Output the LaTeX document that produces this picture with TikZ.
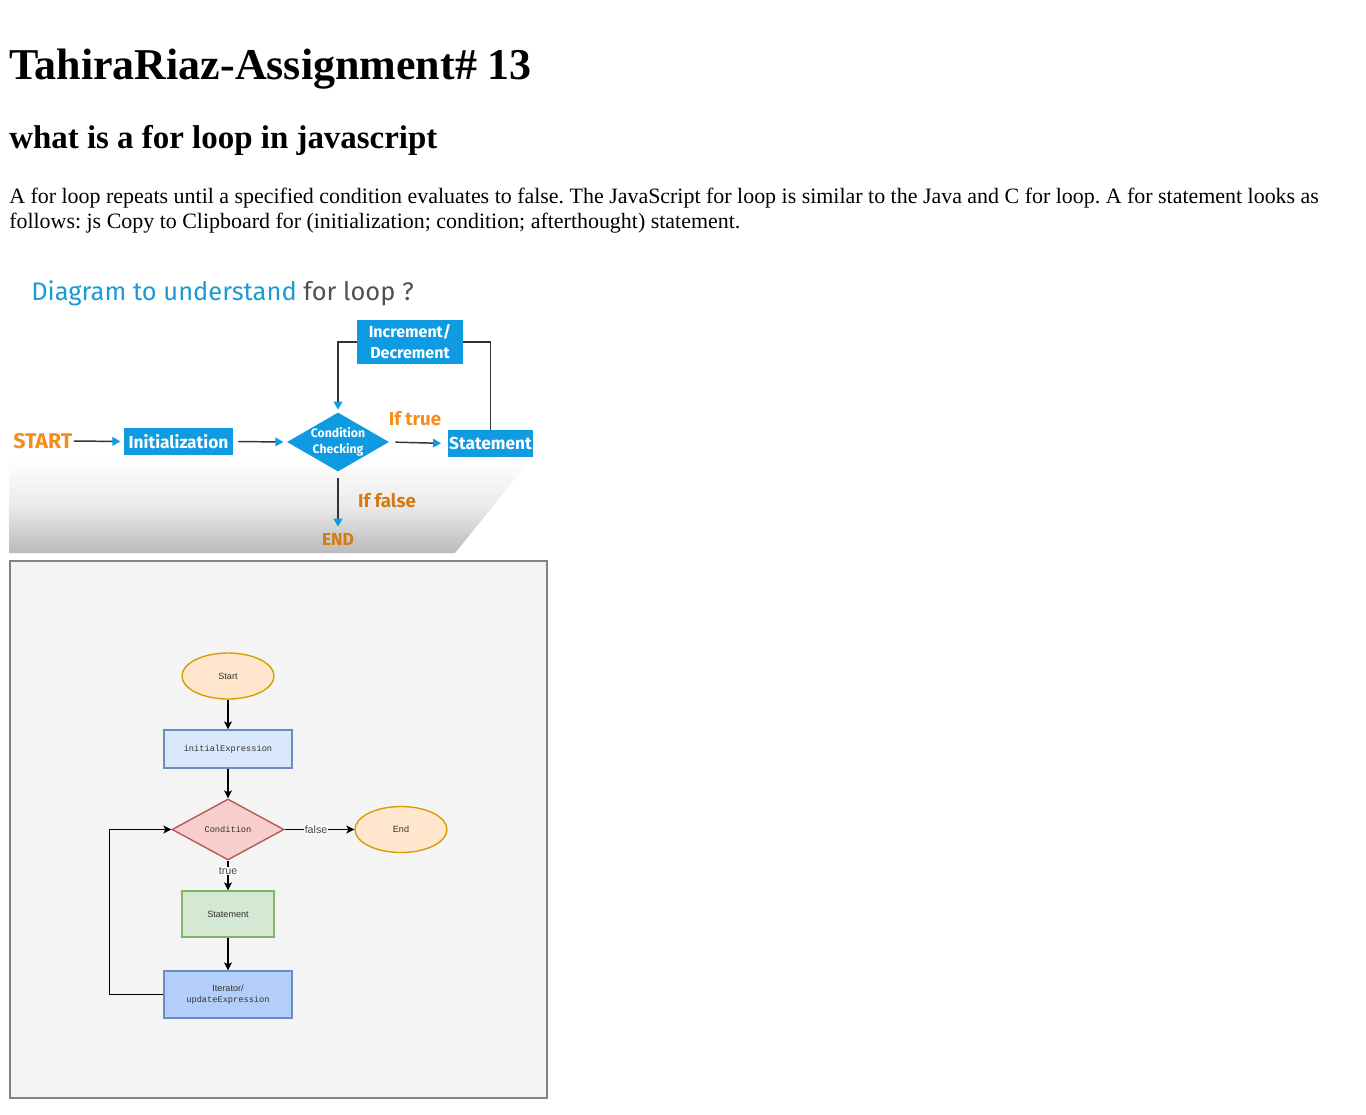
\documentclass[tikz,border=0pt]{standalone}
\usepackage{fontspec}
\setmainfont{Liberation Serif}
\newfontfamily\dinfont{Fira Sans}
\newfontfamily\drawfont{Liberation Sans}
\newfontfamily\codefont{Liberation Mono}
\usetikzlibrary{shapes.geometric,arrows.meta}
\definecolor{jsblue}{RGB}{14,155,226}
\definecolor{titleblue}{RGB}{27,154,214}
\definecolor{titlegray}{RGB}{80,80,80}
\definecolor{jsorange}{RGB}{244,140,30}
\definecolor{darkorange}{RGB}{212,124,20}
\definecolor{panelbg}{RGB}{244,244,244}
\definecolor{panelborder}{RGB}{130,130,130}
\definecolor{orfill}{RGB}{255,230,204}
\definecolor{ordraw}{RGB}{215,155,0}
\definecolor{bfill}{RGB}{218,232,252}
\definecolor{bdraw}{RGB}{108,142,191}
\definecolor{rfill}{RGB}{248,206,204}
\definecolor{rdraw}{RGB}{184,84,80}
\definecolor{gfill}{RGB}{213,232,212}
\definecolor{gdraw}{RGB}{130,179,102}
\definecolor{b2fill}{RGB}{180,206,250}
\definecolor{fadegray}{RGB}{186,186,186}
\frenchspacing
\begin{document}
\begin{tikzpicture}[x=0.75pt,y=-0.75pt,
  htext/.style={anchor=base west, inner sep=0pt},
  topbox/.style={rectangle, fill=jsblue, text=white, inner sep=0pt, align=center,
    font=\dinfont\bfseries},
  toplabel/.style={inner sep=0pt, font=\dinfont\bfseries\fontsize{14}{16}\selectfont},
  toparrow/.style={draw=black!80, line width=1.1pt,
    -{Triangle[color=jsblue, length=6pt, width=6.5pt]}},
  topline/.style={draw=black!80, line width=1.1pt},
  fcshape/.style={line width=1pt, text=black!80, inner sep=0pt, align=center,
    font=\drawfont\fontsize{6.8}{8.5}\selectfont},
  fcarrow/.style={draw=black, line width=1.1pt,
    -{Stealth[length=6pt, width=6pt, inset=1.5pt]}},
  edgelabel/.style={fill=white, inner sep=0.5pt, text=black!75,
    font=\drawfont\fontsize{8}{9}\selectfont}
]
\useasboundingbox (0,0) rectangle (1366,1114);

% ---- HTML text ----
\node[htext, font=\fontsize{33}{38}\selectfont\bfseries] (h1) at (9,79) {TahiraRiaz-Assignment\# 13};
\node[htext, font=\fontsize{24.7}{28}\selectfont\bfseries] (h2) at (9,148) {what is a for loop in javascript};
\node[htext, font=\fontsize{16.45}{19}\selectfont] (p1) at (9,203) {A for loop repeats until a specified condition evaluates to false. The JavaScript for loop is similar to the Java and C for loop. A for statement looks as};
\node[htext, font=\fontsize{16.45}{19}\selectfont] (p2) at (9,228) {follows: js Copy to Clipboard for (initialization; condition; afterthought) statement.};

% ---- top picture ----
\shade[top color=white, bottom color=fadegray, middle color=black!8]
  (9,458) -- (532,458) -- (455,553) -- (9,553) -- cycle;
\node[htext, font=\dinfont\fontsize{19.1}{22}\selectfont] (title) at (31,300)
  {\textcolor{titleblue}{Diagram to understand} \textcolor{titlegray}{for loop ?}};

\node[toplabel, text=jsorange, anchor=west, font=\dinfont\bfseries\fontsize{16}{18}\selectfont] (start) at (13,441) {START};
\node[topbox, minimum width=81.75pt, minimum height=20.25pt, font=\dinfont\bfseries\fontsize{13}{15}\selectfont] (init) at (178.5,441.5) {Initialization};
\node[diamond, fill=jsblue, inner sep=0pt,
  minimum width=76.5pt, minimum height=44.25pt] (cond) at (338,442) {};
\node[text=white, inner sep=0pt, align=center,
  font=\dinfont\bfseries\fontsize{9.2}{12}\selectfont] (condtext) at (cond.center) {Condition\\Checking};
\node[topbox, minimum width=63.75pt, minimum height=20.25pt, font=\dinfont\bfseries\fontsize{13}{15}\selectfont] (stmt) at (490.5,443.5) {Statement};
\node[topbox, minimum width=79.5pt, minimum height=33pt, font=\dinfont\bfseries\fontsize{12}{15.75}\selectfont] (inc) at (410,342) {Increment/\\Decrement};
\node[toplabel, text=jsorange] (iftrue) at (415,419) {If true};
\node[toplabel, text=darkorange] (iffalse) at (387,501) {If false};
\node[toplabel, text=darkorange, font=\dinfont\bfseries\fontsize{13}{15}\selectfont] (endt) at (338,539) {END};

\draw[toparrow, shorten <=1pt, shorten >=2.5pt] (start.east) -- (init.west);
\draw[toparrow, shorten <=3.75pt, shorten >=2.5pt] (init.east) -- (cond.west);
\draw[toparrow, shorten <=4.5pt, shorten >=5pt] (cond.east) -- (stmt.west);
\draw[toparrow, shorten <=4.5pt, shorten >=4.5pt] (cond.south) -- (endt.north);
\draw[topline] (stmt.north) |- (inc.east);
\draw[toparrow, shorten >=2pt] (inc.west) -| (cond.north);

% ---- bottom picture ----
\draw[fill=panelbg, draw=panelborder, line width=1.3pt] (10,561) rectangle (547,1098);
\node[fcshape, ellipse, fill=orfill, draw=ordraw, minimum width=69pt, minimum height=34.5pt] (bstart) at (228,676) {Start};
\node[fcshape, rectangle, fill=bfill, draw=bdraw, minimum width=96pt, minimum height=28.5pt, font=\codefont\fontsize{6.5}{8}\selectfont] (binit) at (228,749) {initialExpression};
\node[fcshape, diamond, fill=rfill, draw=rdraw, minimum width=84pt, minimum height=45.75pt, font=\codefont\fontsize{6.5}{8}\selectfont] (bcond) at (228,829.5) {Condition};
\node[fcshape, ellipse, fill=orfill, draw=ordraw, minimum width=69pt, minimum height=34.5pt] (bend) at (401,829.5) {End};
\node[fcshape, rectangle, fill=gfill, draw=gdraw, minimum width=69pt, minimum height=34.5pt] (bstmt) at (228,914) {Statement};
\node[fcshape, rectangle, fill=b2fill, draw=bdraw, minimum width=96pt, minimum height=35.25pt] (biter) at (228,994.5) {Iterator/\\{\codefont\fontsize{6.5}{8}\selectfont updateExpression}};

\draw[fcarrow] (bstart.south) -- (binit.north);
\draw[fcarrow] (binit.south) -- (bcond.north);
\draw[fcarrow] (bcond.east) -- node[edgelabel, pos=0.45] {false} (bend.west);
\draw[fcarrow] (bcond.south) -- node[edgelabel, pos=0.35] {true} (bstmt.north);
\draw[fcarrow] (bstmt.south) -- (biter.north);
\draw[fcarrow] (biter.west) -- ++(-54,0) |- (bcond.west);
\end{tikzpicture}
\end{document}
